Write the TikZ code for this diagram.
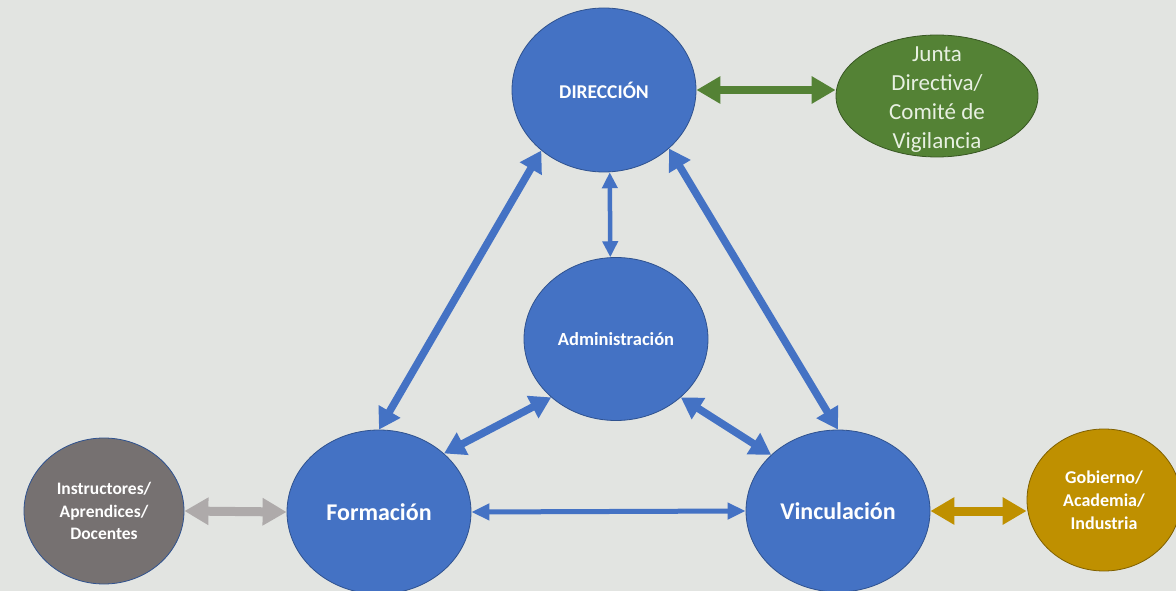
\documentclass[tikz,border=0pt]{standalone}
\usepackage{fontspec}
\setmainfont{Carlito}
\usetikzlibrary{arrows.meta,shapes.geometric}
\definecolor{bgGrey}{RGB}{226,228,225}
\definecolor{areaBlue}{RGB}{68,114,196}
\definecolor{edgeBlue}{RGB}{47,82,143}
\definecolor{juntaGreen}{RGB}{84,130,53}
\definecolor{juntaEdge}{RGB}{56,87,35}
\definecolor{juntaText}{RGB}{232,240,226}
\definecolor{goldArea}{RGB}{191,144,0}
\definecolor{goldEdge}{RGB}{127,96,0}
\definecolor{greyArea}{RGB}{118,113,113}
\definecolor{arrowGrey}{RGB}{174,170,170}
\tikzset{
  area/.style={ellipse, draw=edgeBlue, line width=0.8pt, fill=areaBlue, text=white, inner sep=0pt, align=center},
  bigarrow/.style={draw=areaBlue, line width=7.5pt, {Triangle[width=24pt,length=21pt]}-{Triangle[width=24pt,length=21pt]}},
  thinarrow/.style={draw=areaBlue, line width=4.5pt, {Triangle[width=15pt,length=16pt]}-{Triangle[width=15pt,length=16pt]}},
  flatarrow/.style={draw=areaBlue, line width=5pt, {Triangle[width=16pt,length=18pt]}-{Triangle[width=16pt,length=18pt]}},
  sidearrow/.style={line width=9pt, {Triangle[width=26pt,length=24pt]}-{Triangle[width=26pt,length=24pt]}}
}

\begin{document}
\begin{tikzpicture}[x=1pt,y=-1pt]
		%%%%% START %%%%%
		\useasboundingbox[fill=bgGrey] (0,0) rectangle (1176,591);
		
		\node[area, minimum width=184, minimum height=164, font=\bfseries\fontsize{19.5}{23}\selectfont] (dir) at (604,90) {DIRECCIÓN};
		\node[area, minimum width=184, minimum height=163, font=\bfseries\fontsize{18.5}{22}\selectfont] (adm) at (616,339) {Administración};
		\node[area, minimum width=184, minimum height=164, font=\bfseries\fontsize{24}{29}\selectfont] (form) at (379,512) {Formación};
		\node[area, minimum width=184, minimum height=162, font=\bfseries\fontsize{24}{29}\selectfont] (vin) at (838,511) {Vinculación};
		
		\node[area, fill=greyArea, minimum width=160, minimum height=146, font=\bfseries\fontsize{17.5}{22.5}\selectfont] (ins) at (104,511) {Instructores/\\Aprendices/\\Docentes};
		\node[area, fill=goldArea, draw=goldEdge, minimum width=154, minimum height=142, font=\bfseries\fontsize{18}{23}\selectfont] (gob) at (1104,500) {Gobierno/\\Academia/\\Industria};
		\node[area, fill=juntaGreen, draw=juntaEdge, minimum width=202, minimum height=122,
			label={[yshift=-4pt, align=center, text=juntaText, font=\fontsize{23}{29}\selectfont]center:{Junta\\Directiva/\\Comité de\\Vigilancia}}] (jun) at (937,96) {};
		
		\draw[bigarrow] (dir.224) -- (form.90);
		\draw[bigarrow] (dir.318) -- (vin.90);
		\draw[thinarrow] (dir.-86) -- (adm.94);
		\draw[bigarrow] (adm.222) -- (form.42);
		\draw[bigarrow] (adm.318) -- (vin.140);
		\draw[flatarrow] (form.east) -- (vin.west);
		
		\draw[sidearrow, line width=8pt, draw=juntaGreen] (dir.east) -- (dir.east -| jun.west);
		\draw[sidearrow, draw=arrowGrey] (ins.east) -- (form.west);
		\draw[sidearrow, draw=goldArea] (vin.east) -- (vin.east -| gob.west);
		%%%%% END %%%%%
	\end{tikzpicture}
\end{document}
